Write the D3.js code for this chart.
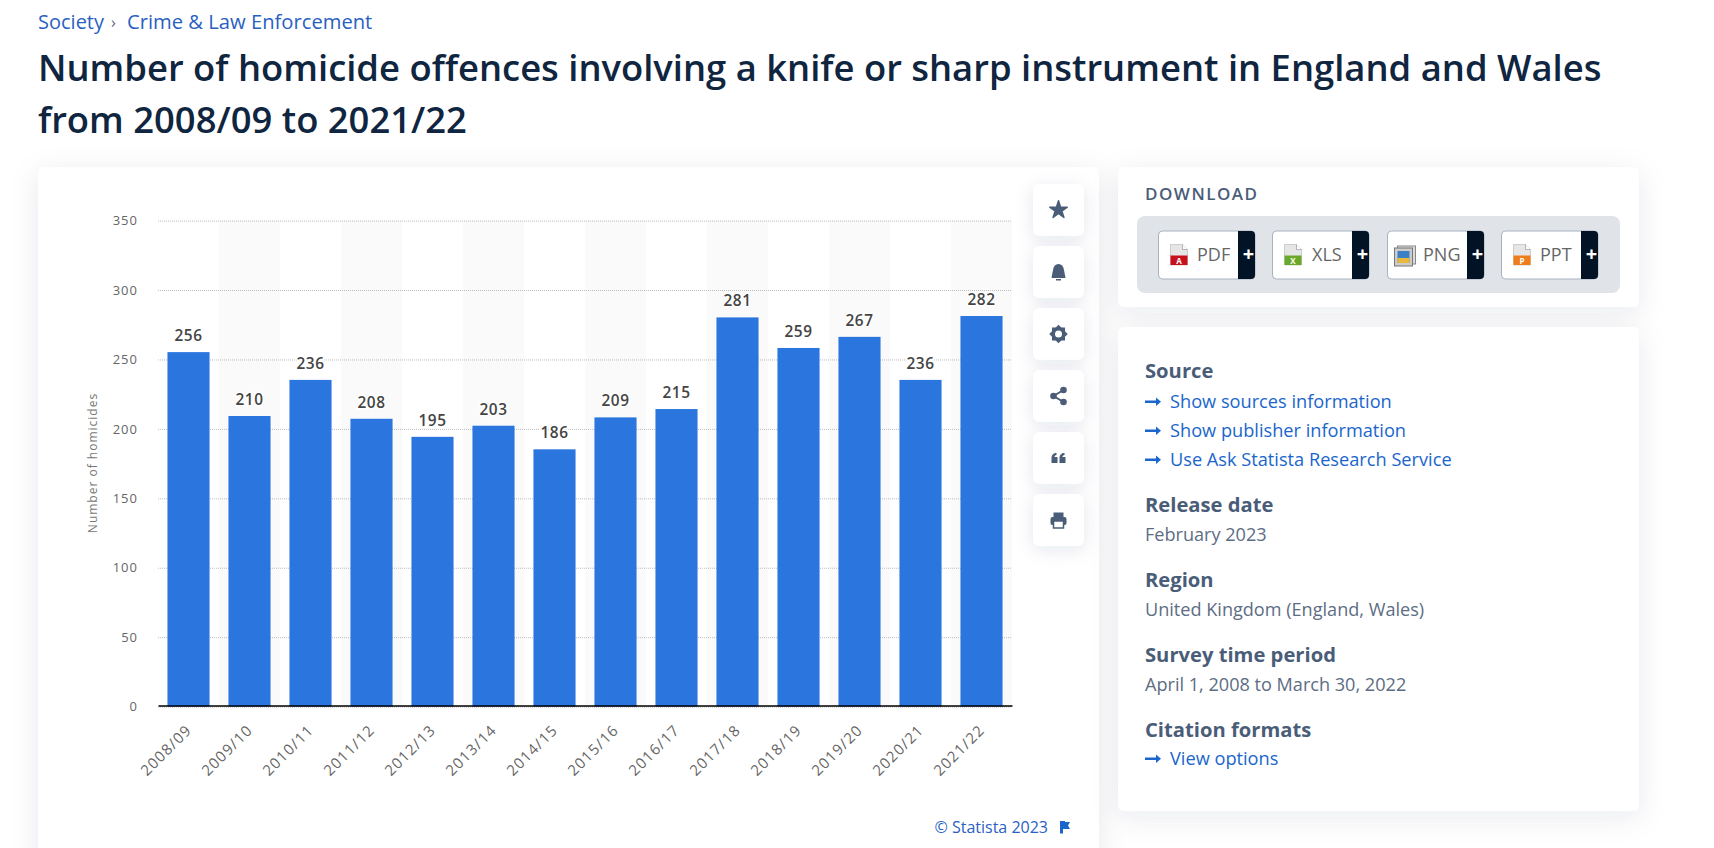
<!DOCTYPE html>
<html>
<head>
<meta charset="utf-8">
<script src="https://cdn.jsdelivr.net/npm/d3@7"></script>
<style>
html, body { margin: 0; padding: 0; background: #fff; overflow: hidden; }
text { font-family: "Open Sans", sans-serif; }
</style>
</head>
<body>
<div id="chart_area"></div>
<script>
// chart values
var seasons = ["2008/09", "2009/10", "2010/11", "2011/12", "2012/13", "2013/14", "2014/15",
  "2015/16", "2016/17", "2017/18", "2018/19", "2019/20", "2020/21", "2021/22"];
var homicides = [256, 210, 236, 208, 195, 203, 186, 209, 215, 281, 259, 267, 236, 282];
var yTicks = [0, 50, 100, 150, 200, 250, 300, 350];
var yLabel = "Number of homicides";

// page text
var crumbs = ["Society", "Crime & Law Enforcement"];
var titleLines = ["Number of homicide offences involving a knife or sharp instrument in England and Wales",
  "from 2008/09 to 2021/22"];
var downloads = ["PDF", "XLS", "PNG", "PPT"];

var frame_width = 1714;
var frame_height = 848;

var blue = "#2a75de";
var link = "#1a66cc";
var slate = "#4a5d78";
var ink = "#0f2540";

var frame = d3.select("#chart_area").append("svg")
  .attr("width", frame_width)
  .attr("height", frame_height)
  .style("display", "block");

var defs = frame.append("defs");
var shadow = defs.append("filter").attr("id", "card_shadow")
  .attr("x", "-15%").attr("y", "-25%").attr("width", "130%").attr("height", "150%");
shadow.append("feDropShadow")
  .attr("dx", 0).attr("dy", 6).attr("stdDeviation", 14)
  .attr("flood-color", "#16305a").attr("flood-opacity", 0.09);
var small_shadow = defs.append("filter").attr("id", "tool_shadow")
  .attr("x", "-100%").attr("y", "-100%").attr("width", "300%").attr("height", "300%");
small_shadow.append("feDropShadow")
  .attr("dx", 0).attr("dy", 4).attr("stdDeviation", 9)
  .attr("flood-color", "#16305a").attr("flood-opacity", 0.1);

function card(parent, x, y, w, h, r) {
  return parent.append("rect")
    .attr("x", x).attr("y", y).attr("width", w).attr("height", h).attr("rx", r)
    .attr("fill", "#fff").attr("filter", "url(#card_shadow)");
}

// header
frame.append("text").attr("x", 38).attr("y", 29)
  .attr("font-size", 20).attr("fill", "#2a5fc2").text(crumbs[0]);
frame.append("text").attr("x", 111).attr("y", 28)
  .attr("font-size", 16).attr("fill", "#5a6b85").text("›");
frame.append("text").attr("x", 127).attr("y", 29)
  .attr("font-size", 20.2).attr("fill", "#2a5fc2").text(crumbs[1]);

frame.selectAll("text.title").data(titleLines).enter().append("text")
  .attr("class", "title")
  .attr("x", 38)
  .attr("y", function(d, i) { return 81 + i * 52; })
  .attr("font-size", 36.4)
  .attr("font-weight", 600)
  .attr("fill", ink)
  .text(function(d) { return d; });

// cards
card(frame, 38, 167, 1061, 720, 6);
card(frame, 1118, 167, 521, 140, 6);
card(frame, 1118, 327, 521, 484, 6);

// chart
var canvas = frame.append("g");
var x_band = d3.scaleBand().domain(seasons).range([158, 1012]);
var x = d3.scaleBand().domain(seasons).range([158, 1012]).paddingInner(0.31).paddingOuter(0.155);
var y = d3.scaleLinear().domain([0, 350]).range([706.6, 220.6]);
var bar_inset = 1; // bar tops sit a touch under the grid scale in the source

canvas.selectAll("rect.stripe").data(seasons.filter(function(d, i) { return i % 2 == 1; }))
  .enter().append("rect")
  .attr("class", "stripe")
  .attr("x", function(d) { return x_band(d); })
  .attr("y", y(350))
  .attr("width", x_band.bandwidth())
  .attr("height", y(0) - y(350))
  .attr("fill", "#fafafa");

var y_axis = canvas.append("g")
  .attr("transform", "translate(158,0)")
  .call(d3.axisLeft(y).tickValues(yTicks).tickSize(-854).tickPadding(20));
y_axis.select(".domain").remove();
y_axis.selectAll(".tick line")
  .attr("stroke", "#bdbdbd").attr("stroke-dasharray", "1 1");
y_axis.selectAll(".tick text")
  .attr("font-family", "Open Sans").attr("font-size", 13).attr("letter-spacing", 1)
  .attr("fill", "#666");

canvas.selectAll("rect.bar").data(seasons).enter().append("rect")
  .attr("class", "bar")
  .attr("x", function(d) { return x(d); })
  .attr("y", function(d, i) { return y(homicides[i]) + bar_inset; })
  .attr("width", x.bandwidth())
  .attr("height", function(d, i) { return y(0) - y(homicides[i]) - bar_inset; })
  .attr("fill", blue);

canvas.selectAll("text.value").data(seasons).enter().append("text")
  .attr("class", "value")
  .attr("x", function(d) { return x(d) + x.bandwidth() / 2; })
  .attr("y", function(d, i) { return y(homicides[i]) - 10; })
  .attr("text-anchor", "middle")
  .attr("font-size", 15.4)
  .attr("font-weight", 600)
  .attr("letter-spacing", 0.6)
  .attr("fill", "#444")
  .attr("stroke", "#fff").attr("stroke-width", 3).attr("paint-order", "stroke")
  .text(function(d, i) { return homicides[i]; });

var x_axis = canvas.append("g")
  .attr("transform", "translate(0,706)")
  .call(d3.axisBottom(x_band).tickSize(0));
x_axis.select(".domain")
  .attr("stroke", "#000").attr("stroke-width", 1.4).attr("d", "M158.5,0H1012.5");
x_axis.selectAll(".tick text")
  .attr("font-family", "Open Sans").attr("font-size", 15).attr("letter-spacing", 1.1)
  .attr("fill", "#666")
  .attr("text-anchor", "end")
  .attr("dx", 0).attr("dy", 0)
  .attr("transform", "translate(2,23) rotate(-45)");

canvas.append("text")
  .attr("transform", "translate(97,463) rotate(-90)")
  .attr("text-anchor", "middle")
  .attr("font-size", 12)
  .attr("letter-spacing", 1)
  .attr("fill", "#777")
  .text(yLabel);

// copyright
frame.append("text").attr("x", 1048).attr("y", 833).attr("text-anchor", "end")
  .attr("font-size", 16).attr("fill", "#2a5fc2").text("© Statista 2023");
frame.append("path").attr("transform", "translate(1060,821)")
  .attr("d", "M0,0H5V1H10L8,4.5L10,8H3V12.5H0Z").attr("fill", link);

// side buttons
var toolIcons = ["star", "bell", "gear", "share", "quote", "print"];
var tools = frame.selectAll("g.tool").data(toolIcons).enter().append("g")
  .attr("class", "tool")
  .attr("transform", function(d, i) { return "translate(1033," + (184 + i * 62) + ")"; });
tools.append("rect").attr("width", 51).attr("height", 52).attr("rx", 7)
  .attr("fill", "#fff").attr("filter", "url(#tool_shadow)");
var icons = tools.append("g").attr("transform", "translate(25.5,26)").attr("fill", slate);
icons.filter(function(d) { return d == "star"; }).append("path")
  .attr("stroke", slate).attr("stroke-width", 1.5).attr("stroke-linejoin", "round")
  .attr("d", d3.symbol().type(d3.symbolStar).size(95));
icons.filter(function(d) { return d == "bell"; }).append("path")
  .attr("d", "M-7,6C-6.5,3-6,1-5.5,-2C-5,-6-3,-8,0,-8C3,-8,5,-6,5.5,-2C6,1,6.5,3,7,6ZM-2.5,7H2.5V8.5H-2.5Z");
var gear = icons.filter(function(d) { return d == "gear"; });
gear.append("path").attr("d", d3.symbol().type(d3.symbolSquare).size(170));
gear.append("path").attr("transform", "rotate(45)").attr("d", d3.symbol().type(d3.symbolSquare).size(170));
gear.append("circle").attr("r", 3.5).attr("fill", "#fff");
var share = icons.filter(function(d) { return d == "share"; });
share.append("path").attr("d", "M5,-6L-5,0L5,6").attr("fill", "none").attr("stroke", slate).attr("stroke-width", 2);
share.append("circle").attr("cx", 5).attr("cy", -6).attr("r", 3.3);
share.append("circle").attr("cx", -5).attr("cy", 0).attr("r", 3.3);
share.append("circle").attr("cx", 5).attr("cy", 6).attr("r", 3.3);
var quote = icons.filter(function(d) { return d == "quote"; });
quote.append("path").attr("d", "M-7,5V0C-7,-3-5,-5-2,-5V-3C-3.5,-3-4,-2-4,-1H-1V5Z");
quote.append("path").attr("d", "M1,5V0C1,-3,3,-5,6,-5V-3C4.5,-3,4,-2,4,-1H7V5Z");
var print = icons.filter(function(d) { return d == "print"; });
print.append("rect").attr("x", -8).attr("y", -3).attr("width", 16).attr("height", 8).attr("rx", 2);
print.append("rect").attr("x", -5).attr("y", -7.5).attr("width", 10).attr("height", 5);
print.append("rect").attr("x", -5).attr("y", 1).attr("width", 10).attr("height", 7)
  .attr("fill", "#fff").attr("stroke", slate).attr("stroke-width", 1.5);

// download panel
frame.append("text").attr("x", 1145).attr("y", 200)
  .attr("font-size", 17).attr("font-weight", 600).attr("letter-spacing", 1.5)
  .attr("fill", slate).text("DOWNLOAD");
frame.append("rect").attr("x", 1137).attr("y", 216).attr("width", 483).attr("height", 77).attr("rx", 8)
  .attr("fill", "#e0e3e7");

var buttonLeft = [1158.5, 1272.5, 1387.5, 1501.5];
var labelLeft = [38.5, 39.5, 35.5, 38.5];
var iconColor = { PDF: "#c8101c", XLS: "#6aa82a", PNG: "#3b7fc4", PPT: "#ef7d1c" };
var btn = frame.selectAll("g.dl").data(downloads).enter().append("g")
  .attr("class", "dl")
  .attr("transform", function(d, i) { return "translate(" + buttonLeft[i] + ",231)"; });
btn.append("rect").attr("width", 96.5).attr("height", 48).attr("rx", 4)
  .attr("fill", "#fff").attr("stroke", "#a8b2c0");
btn.append("path")
  .attr("d", "M79.5,0H92.5a4,4 0 0 1 4,4V44a4,4 0 0 1 -4,4H79.5Z")
  .attr("fill", "#021326");
btn.append("text").attr("x", 90).attr("y", 30).attr("text-anchor", "middle")
  .attr("font-size", 20).attr("font-weight", 700).attr("fill", "#fff").text("+");
btn.append("text").attr("x", function(d, i) { return labelLeft[i]; }).attr("y", 30)
  .attr("font-size", 18).attr("fill", "#666").text(function(d) { return d; });
// file glyph
var fileIcon = btn.filter(function(d) { return d != "PNG"; }).append("g").attr("transform", "translate(12,13.5)");
fileIcon.append("path").attr("d", "M0,0H12L17,5V20.5H0Z").attr("fill", "#e6e6e6").attr("stroke", "#bdbdbd").attr("stroke-width", 0.7);
fileIcon.append("path").attr("d", "M12,0V5H17").attr("fill", "#fff").attr("stroke", "#9a9a9a").attr("stroke-width", 0.7);
fileIcon.append("rect").attr("y", 11).attr("width", 17).attr("height", 9.5)
  .attr("fill", function(d) { return iconColor[d]; });
fileIcon.append("text").attr("x", 8.5).attr("y", 19.5).attr("text-anchor", "middle")
  .attr("font-size", 8).attr("font-weight", 700).attr("fill", "#fff")
  .text(function(d) { return d == "PDF" ? "A" : d == "XLS" ? "X" : "P"; });
var pngIcon = btn.filter(function(d) { return d == "PNG"; }).append("g").attr("transform", "translate(7,15)");
pngIcon.append("rect").attr("x", 3).attr("width", 18).attr("height", 18).attr("fill", "#ddd").attr("stroke", "#888");
pngIcon.append("rect").attr("y", 2).attr("width", 18).attr("height", 18).attr("fill", "#ccc").attr("stroke", "#777");
pngIcon.append("rect").attr("x", 3).attr("y", 5).attr("width", 12).attr("height", 12).attr("fill", iconColor.PNG);
pngIcon.append("rect").attr("x", 3).attr("y", 12).attr("width", 12).attr("height", 5).attr("fill", "#e9b93c");

// source panel
var headings = [["Source", 378], ["Release date", 512], ["Region", 587], ["Survey time period", 662], ["Citation formats", 737]];
var plainLines = [["February 2023", 541], ["United Kingdom (England, Wales)", 616], ["April 1, 2008 to March 30, 2022", 691]];
var linkLines = [["Show sources information", 408], ["Show publisher information", 437], ["Use Ask Statista Research Service", 466], ["View options", 765]];

frame.selectAll("text.head").data(headings).enter().append("text")
  .attr("class", "head").attr("x", 1145).attr("y", function(d) { return d[1]; })
  .attr("font-size", 20.2).attr("font-weight", 700).attr("fill", slate)
  .text(function(d) { return d[0]; });
frame.selectAll("text.plain").data(plainLines).enter().append("text")
  .attr("class", "plain").attr("x", 1145).attr("y", function(d) { return d[1]; })
  .attr("font-size", 18.1).attr("fill", "#5d6d84")
  .text(function(d) { return d[0]; });
var links = frame.selectAll("g.link").data(linkLines).enter().append("g")
  .attr("class", "link")
  .attr("transform", function(d) { return "translate(1148," + d[1] + ")"; });
links.append("text").attr("x", 22).attr("font-size", 18.2).attr("fill", link)
  .text(function(d) { return d[0]; });
links.append("path").attr("d", "M-3,-7.4H8V-10.5L13,-6.2L8,-2V-5H-3Z").attr("fill", link);
</script>
</body>
</html>
